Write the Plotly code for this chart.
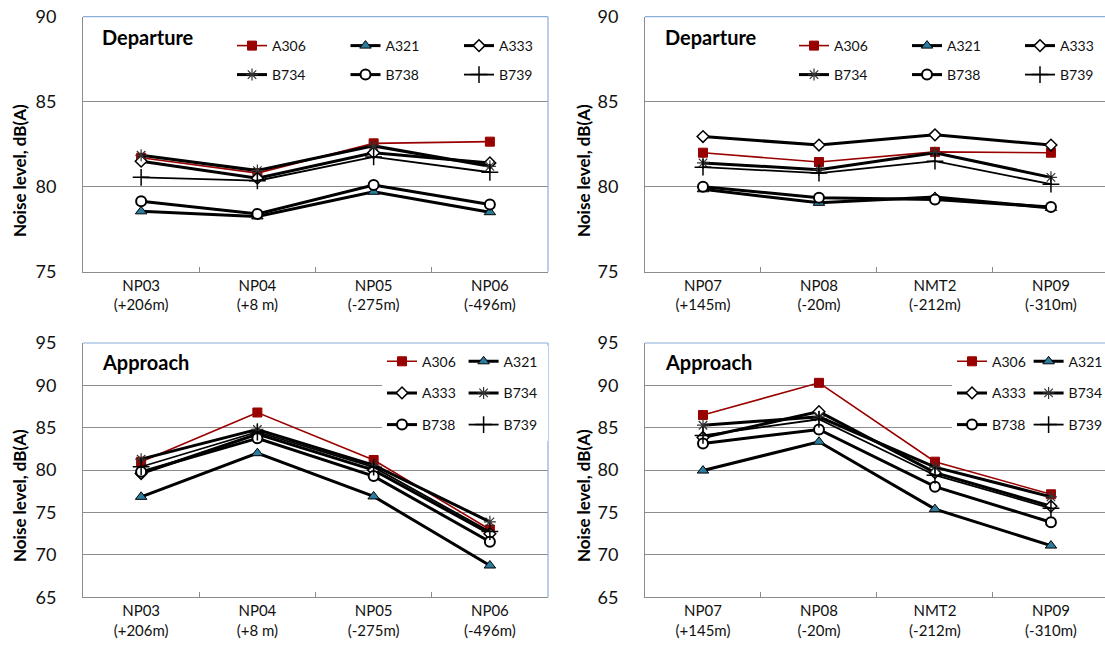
import plotly.graph_objects as go

# ---------------- data ----------------
series = ["A306", "A321", "A333", "B734", "B738", "B739"]

cats_tl = ["NP03<br>(+206m)", "NP04<br>(+8 m)", "NP05<br>(-275m)", "NP06<br>(-496m)"]
cats_tr = ["NP07<br>(+145m)", "NP08<br>(-20m)", "NMT2<br>(-212m)", "NP09<br>(-310m)"]
cats_bl = cats_tl
cats_br = cats_tr

dep_left = {
    "A306": [81.7, 80.8, 82.55, 82.65],
    "A321": [78.55, 78.25, 79.7, 78.5],
    "A333": [81.5, 80.5, 82.0, 81.4],
    "B734": [81.85, 80.95, 82.4, 81.2],
    "B738": [79.15, 78.4, 80.1, 78.95],
    "B739": [80.55, 80.35, 81.75, 80.85],
}
dep_right = {
    "A306": [82.0, 81.45, 82.05, 82.0],
    "A321": [79.85, 79.05, 79.4, 78.75],
    "A333": [82.95, 82.45, 83.05, 82.45],
    "B734": [81.4, 81.0, 82.0, 80.55],
    "B738": [80.0, 79.35, 79.25, 78.8],
    "B739": [81.15, 80.8, 81.5, 80.15],
}
app_left = {
    "A306": [81.0, 86.8, 81.2, 73.0],
    "A321": [76.85, 82.0, 76.9, 68.75],
    "A333": [79.6, 84.25, 80.0, 72.5],
    "B734": [81.3, 84.8, 80.6, 73.9],
    "B738": [79.8, 83.75, 79.3, 71.55],
    "B739": [80.4, 84.5, 80.35, 72.75],
}
app_right = {
    "A306": [86.5, 90.3, 81.0, 77.15],
    "A321": [79.95, 83.35, 75.4, 71.1],
    "A333": [83.85, 86.9, 79.7, 75.75],
    "B734": [85.3, 86.3, 80.35, 76.85],
    "B738": [83.15, 84.8, 78.05, 73.85],
    "B739": [84.1, 86.0, 79.4, 75.5],
}

panel_titles = ["Departure", "Departure", "Approach", "Approach"]
y_title = "Noise level, dB(A)"

# ---------------- styles ----------------
W, H = 1105, 645
FONT = "Lato, 'Open Sans', sans-serif"
TXT = "#111111"
GRID = "#8c8c8c"
BLUE = "#8aaedc"

style = {
    "A306": dict(line=dict(color="#990000", width=1.6),
                 marker=dict(symbol="square", size=9, color="#990000",
                             line=dict(color="#990000", width=1))),
    "A321": dict(line=dict(color="#000000", width=3),
                 marker=dict(symbol="triangle-up", size=10, color="#2b7d9e",
                             line=dict(color="#000000", width=1))),
    "A333": dict(line=dict(color="#000000", width=3),
                 marker=dict(symbol="diamond", size=9, color="#ffffff",
                             line=dict(color="#000000", width=1.5))),
    "B734": dict(line=dict(color="#000000", width=3),
                 marker=dict(symbol="asterisk-open", size=10, color="#333333",
                             line=dict(color="#333333", width=1.2))),
    "B738": dict(line=dict(color="#000000", width=3),
                 marker=dict(symbol="circle", size=10, color="#ffffff",
                             line=dict(color="#000000", width=2))),
    "B739": dict(line=dict(color="#000000", width=1.8),
                 marker=dict(symbol="cross-thin-open", size=12, color="#000000",
                             line=dict(color="#000000", width=1.5))),
}

def px_x(p):
    return p / W

def px_y(p):
    return 1 - p / H

# panel geometry (pixels)
panels = [
    dict(data=dep_left, cats=cats_tl, x0=83, x1=548, y0=16.7, y1=271.7, yr=[75, 90],
         xr=[-0.5, 3.5], right_border=True, kind="dep",
         leg_x=232, leg_rows=[46, 75], title_x=100, title_y=37, ytitle_x=19, ytitle_y=171,
         colw=68.5, lastw=34),
    dict(data=dep_right, cats=cats_tr, x0=645, x1=1105, y0=16.7, y1=271.7, yr=[75, 90],
         xr=[-0.5, 3.466], right_border=False, kind="dep",
         leg_x=794, leg_rows=[46, 75], title_x=663, title_y=37, ytitle_x=583, ytitle_y=171,
         colw=68, lastw=34),
    dict(data=app_left, cats=cats_bl, x0=83, x1=548, y0=343, y1=597.3, yr=[65, 95],
         xr=[-0.5, 3.5], right_border=True, kind="app",
         leg_x=382, leg_rows=[361.7, 393.3, 425], title_x=100, title_y=362, ytitle_x=19, ytitle_y=496,
         colw=36.6, lastw=38.5),
    dict(data=app_right, cats=cats_br, x0=645, x1=1105, y0=343, y1=597.3, yr=[65, 95],
         xr=[-0.5, 3.466], right_border=False, kind="app",
         leg_x=952, leg_rows=[361.7, 393.3, 425], title_x=663, title_y=362, ytitle_x=583, ytitle_y=496,
         colw=31.6, lastw=31.3),
]

fig = go.Figure()
layout = dict(width=W, height=H, margin=dict(l=0, r=0, t=0, b=0, autoexpand=False),
              paper_bgcolor="white", plot_bgcolor="white",
              font=dict(family=FONT, color=TXT), showlegend=True)
shapes = []
annotations = []
legend_counter = 0

for pi, p in enumerate(panels):
    k = pi + 1
    xa = "xaxis" if k == 1 else f"xaxis{k}"
    ya = "yaxis" if k == 1 else f"yaxis{k}"
    xref = "x" if k == 1 else f"x{k}"
    yref = "y" if k == 1 else f"y{k}"
    layout[xa] = dict(domain=[px_x(p["x0"]), px_x(p["x1"])], anchor=yref,
                      type="category", categoryorder="array", categoryarray=p["cats"],
                      range=p["xr"], showline=True, linecolor=GRID, linewidth=1,
                      ticks="inside", tickson="boundaries", ticklen=5, tickcolor=GRID,
                      showgrid=False, zeroline=False, automargin=False,
                      tickfont=dict(family=FONT, size=15, color=TXT))
    layout[ya] = dict(domain=[px_y(p["y1"]), px_y(p["y0"])], anchor=xref,
                      range=p["yr"], dtick=5, tick0=0, showline=True, linecolor=GRID,
                      linewidth=1, ticks="", showgrid=True, gridcolor=GRID, gridwidth=1,
                      zeroline=False, ticklabelstandoff=22, automargin=False,
                      tickfont=dict(family=FONT, size=18, color=TXT))
    # blue border (top and right)
    shapes.append(dict(type="line", xref="paper", yref="paper",
                       x0=px_x(p["x0"]), x1=px_x(p["x1"]) if p["right_border"] else 1.0,
                       y0=px_y(p["y0"]), y1=px_y(p["y0"]),
                       line=dict(color=BLUE, width=1.2)))
    if p["right_border"]:
        shapes.append(dict(type="line", xref="paper", yref="paper",
                           x0=px_x(p["x1"]), x1=px_x(p["x1"]),
                           y0=px_y(p["y0"]), y1=px_y(p["y1"]),
                           line=dict(color=BLUE, width=1.2)))
    annotations.append(dict(text=f"<b>{panel_titles[pi]}</b>", xref="paper", yref="paper",
                            x=px_x(p["title_x"]), y=px_y(p["title_y"]),
                            xanchor="left", yanchor="middle", showarrow=False,
                            font=dict(family=FONT, size=20, color="#000000")))
    annotations.append(dict(text=f"<b>{y_title}</b>", xref="paper", yref="paper",
                            x=px_x(p["ytitle_x"]), y=px_y(p["ytitle_y"]),
                            xanchor="center", yanchor="middle", textangle=-90,
                            showarrow=False,
                            font=dict(family=FONT, size=17, color="#000000")))

    ncols = 3 if p["kind"] == "dep" else 2
    row_legends = []
    for r, ry in enumerate(p["leg_rows"]):
        legend_counter += 1
        lname = "legend" if legend_counter == 1 else f"legend{legend_counter}"
        row_legends.append(lname)
        layout[lname] = dict(orientation="h", x=px_x(p["leg_x"]), y=px_y(ry),
                             xanchor="left", yanchor="middle", bgcolor="white",
                             borderwidth=0, entrywidth=p["colw"], entrywidthmode="pixels",
                             font=dict(family=FONT, size=14, color=TXT),
                             traceorder="normal", itemwidth=30)

    for si, name in enumerate(series):
        st = style[name]
        row = si // ncols
        col = si % ncols
        extra = {}
        if col == ncols - 1:
            extra["legendwidth"] = p["lastw"]
        fig.add_trace(go.Scatter(
            x=p["cats"], y=p["data"][name], name=name, mode="lines+markers",
            xaxis=xref, yaxis=yref, line=st["line"], marker=st["marker"],
            legend=row_legends[row], showlegend=True, hoverinfo="skip", **extra))

layout["shapes"] = shapes
layout["annotations"] = annotations
fig.update_layout(**layout)
fig.write_html("out.html")
